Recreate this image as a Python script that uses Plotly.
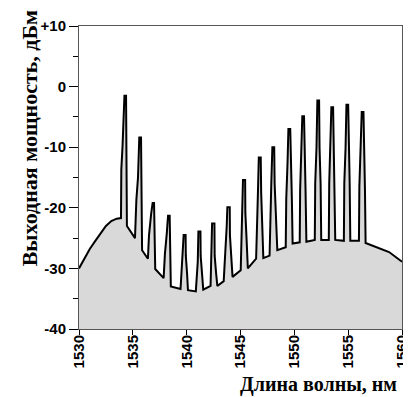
import plotly.graph_objects as go

# Spectrum trace (wavelength in nm, power in dBm)
wavelength = [
    1530.0, 1530.5, 1531.0, 1531.5, 1532.0, 1532.5, 1533.0, 1533.5, 1533.9,
    1533.93, 1534.05, 1534.14, 1534.22, 1534.37, 1534.39, 1534.45, 1535.2,
    1535.33, 1535.48, 1535.6, 1535.76, 1535.78, 1535.86, 1536.4,
    1536.5, 1536.7, 1536.84, 1536.97, 1536.99, 1537.08, 1537.86,
    1537.98, 1538.15, 1538.27, 1538.42, 1538.44, 1538.53, 1539.43,
    1539.5, 1539.62, 1539.72, 1539.9, 1539.92, 1540.04, 1540.12, 1540.85,
    1540.93, 1541.03, 1541.09, 1541.28, 1541.3, 1541.44, 1541.54, 1542.22,
    1542.28, 1542.36, 1542.58, 1542.6, 1542.74, 1542.85, 1543.44,
    1543.6, 1543.72, 1543.78, 1544.0, 1544.02, 1544.16, 1544.26, 1545.02,
    1545.08, 1545.17, 1545.23, 1545.43, 1545.45, 1545.59, 1545.68, 1546.45,
    1546.5, 1546.62, 1546.7, 1546.88, 1546.92, 1547.03, 1547.12, 1547.7,
    1547.75, 1547.86, 1547.96, 1548.13, 1548.17, 1548.3, 1548.42, 1549.2,
    1549.25, 1549.37, 1549.45, 1549.62, 1549.66, 1549.77, 1549.84, 1550.5,
    1550.54, 1550.66, 1550.74, 1550.9, 1550.94, 1551.04, 1551.12, 1551.9,
    1551.94, 1552.06, 1552.14, 1552.3, 1552.34, 1552.44, 1552.5, 1553.2,
    1553.24, 1553.36, 1553.44, 1553.6, 1553.64, 1553.74, 1553.8, 1554.6,
    1554.64, 1554.76, 1554.84, 1555.0, 1555.04, 1555.14, 1555.2, 1556.0,
    1556.04, 1556.16, 1556.26, 1556.42, 1556.46, 1556.56, 1556.62, 1558.8,
    1560.0,
]
power_dbm = [
    -30.0, -28.4, -26.8, -25.5, -24.2, -23.0, -22.2, -21.8, -21.7,
    -13.7, -9.6, -5.5, -1.5, -1.5, -12.3, -23.0, -25.0,
    -18.6, -15.0, -8.4, -8.4, -11.8, -27.0, -28.4,
    -24.6, -21.0, -19.2, -19.2, -23.0, -30.1, -31.6,
    -27.6, -24.3, -21.3, -21.3, -24.6, -33.0, -33.4,
    -30.9, -27.9, -24.5, -24.5, -27.9, -30.9, -33.6, -33.8,
    -30.9, -28.9, -23.9, -23.9, -27.9, -30.9, -33.5, -32.9,
    -27.9, -22.6, -22.6, -27.9, -30.9, -32.9, -32.1,
    -27.9, -23.0, -19.9, -19.9, -24.6, -28.4, -31.4, -30.3,
    -26.2, -20.8, -15.4, -15.4, -20.8, -26.2, -30.0, -28.4,
    -23.5, -17.5, -11.7, -11.7, -17.5, -23.5, -28.3, -27.9,
    -21.5, -16.0, -10.0, -10.0, -16.0, -21.5, -27.0, -26.5,
    -18.5, -12.5, -7.0, -7.0, -12.5, -18.5, -25.9, -25.7,
    -17.0, -11.0, -4.9, -4.9, -11.0, -17.0, -25.6, -25.3,
    -16.0, -10.0, -2.3, -2.3, -10.0, -16.0, -25.3, -25.3,
    -16.0, -10.0, -3.4, -3.4, -10.0, -16.0, -25.3, -25.45,
    -16.0, -10.0, -3.0, -3.0, -10.0, -16.0, -25.45, -25.45,
    -16.5, -11.0, -4.2, -4.2, -11.0, -17.0, -25.8, -27.3,
    -28.9,
]

x_range = [1530, 1560]
y_range = [-40, 10]
x_ticks = [1530, 1535, 1540, 1545, 1550, 1555, 1560]
y_ticks = [-40, -30, -20, -10, 0, 10]
y_tick_labels = ["-40", "-30", "-20", "-10", "0", "+10"]
x_title = "Длина волны, нм"
y_title = "Выходная мощность, дБм"

fig = go.Figure()
# floor trace for the fill
fig.add_trace(go.Scatter(x=x_range, y=[y_range[0], y_range[0]], mode="lines",
                         line=dict(width=0, color="rgba(0,0,0,0)"),
                         hoverinfo="skip", showlegend=False))
fig.add_trace(go.Scatter(x=wavelength, y=power_dbm, mode="lines",
                         line=dict(color="black", width=2),
                         fill="tonexty", fillcolor="#d9d9d9",
                         showlegend=False))

tick_font = dict(family="Liberation Sans, Arial", size=15, color="black",
                 weight="bold")

fig.update_layout(
    width=411, height=397,
    margin=dict(l=71, r=9, t=15, b=76),
    paper_bgcolor="white", plot_bgcolor="white",
    showlegend=False,
    xaxis=dict(range=x_range, tickvals=x_ticks, tickangle=-90,
               tickfont=tick_font, ticks="outside", ticklen=5,
               ticklabelstandoff=-6,
               tickcolor="black", showline=True, linecolor="#555",
               linewidth=1, mirror=True, showgrid=False, zeroline=False),
    yaxis=dict(range=y_range, tickvals=y_ticks, ticktext=y_tick_labels,
               tickfont=tick_font, ticks="outside", ticklen=9,
               tickcolor="black", showline=True, linecolor="#555",
               linewidth=1, mirror=True, showgrid=False, zeroline=False,
               minor=dict(dtick=5, ticks="outside", ticklen=5,
                          tickcolor="black")),
    annotations=[
        dict(text="<b>" + x_title + "</b>", xref="paper", yref="paper",
             x=0.99, y=-0.14, xanchor="right", yanchor="top",
             showarrow=False,
             font=dict(family="Liberation Serif, Times New Roman", size=20,
                       color="black")),
        dict(text="<b>" + y_title + "</b>", xref="paper", yref="paper",
             x=-0.154, y=0.63, xanchor="center", yanchor="middle",
             textangle=-90, showarrow=False,
             font=dict(family="Liberation Serif, Times New Roman", size=22,
                       color="black")),
    ],
)

fig.write_html("out.html")
